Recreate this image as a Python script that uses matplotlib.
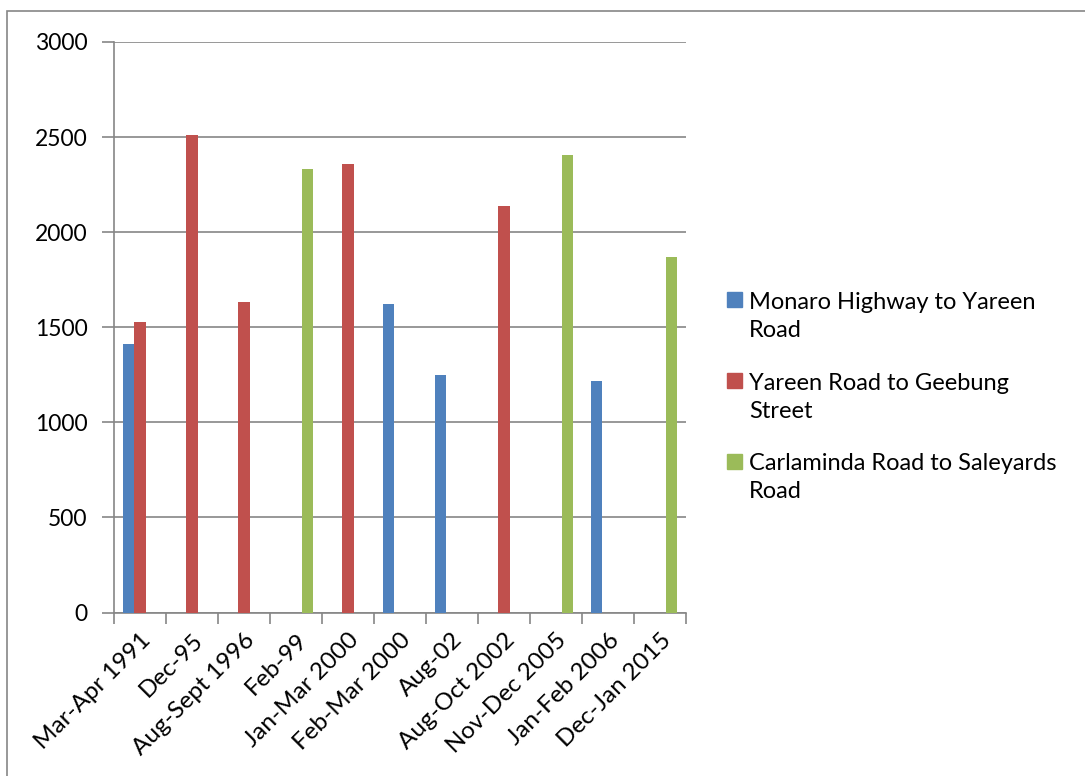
import matplotlib
matplotlib.use('Agg')
import numpy as np
import matplotlib.pyplot as plt
from matplotlib.patches import Rectangle

categories = ["Mar-Apr 1991", "Dec-95", "Aug-Sept 1996", "Feb-99", "Jan-Mar 2000",
              "Feb-Mar 2000", "Aug-02", "Aug-Oct 2002", "Nov-Dec 2005", "Jan-Feb 2006",
              "Dec-Jan 2015"]
nan = np.nan
monaro = [1410, nan, nan, nan, nan, 1623, 1248, nan, nan, 1219, nan]
yareen = [1530, 2510, 1632, nan, 2360, nan, nan, 2140, nan, nan, nan]
carlaminda = [nan, nan, nan, 2332, nan, nan, nan, nan, 2406, nan, 1870]

series_names = ["Monaro Highway to Yareen\nRoad",
                "Yareen Road to Geebung\nStreet",
                "Carlaminda Road to Saleyards\nRoad"]
series_values = [monaro, yareen, carlaminda]
colors = ['#4F81BD', '#C0504D', '#9BBB59']

plt.rcParams['font.family'] = ['Lato', 'DejaVu Sans']
W, H = 1085, 776
fig = plt.figure(figsize=(W / 100, H / 100), dpi=100)
ax = fig.add_axes([114 / W, 1 - 612.5 / H, 572 / W, 570.5 / H])

x = np.arange(len(categories))
bar_w = 0.22
for i, (vals, col) in enumerate(zip(series_values, colors)):
    ax.bar(x + (i - 1) * bar_w, vals, width=bar_w, color=col, zorder=3)

ax.set_xlim(-0.5, len(categories) - 0.5)
ax.set_ylim(0, 3000)
ax.set_yticks(np.arange(0, 3001, 500))
ax.yaxis.grid(True, color='#868686', linewidth=1.2, zorder=0)

for side in ['top', 'right']:
    ax.spines[side].set_visible(False)
ax.spines['left'].set_color('#868686')
ax.spines['bottom'].set_color('#868686')
ax.spines['left'].set_linewidth(1.2)
ax.spines['bottom'].set_linewidth(1.2)

# category boundary ticks on x, centered labels
ax.set_xticks(np.arange(-0.5, len(categories), 1.0))
ax.set_xticklabels([])
ax.set_xticks(x, minor=True)
ax.set_xticklabels(categories, minor=True, rotation=45, ha='right', va='top',
                   rotation_mode='anchor', fontsize=17.5)
ax.tick_params(axis='x', which='minor', length=0, pad=12)
ax.tick_params(axis='x', which='major', length=8, width=1.2, color='#868686')
ax.tick_params(axis='y', length=9, width=1.2, color='#868686', labelsize=16.5, pad=10)

# manual legend
leg_x, leg_y0, leg_dy = 727, 300, 80.5
for i, (name, col) in enumerate(zip(series_names, colors)):
    yc = leg_y0 + i * leg_dy
    fig.add_artist(Rectangle((leg_x / W, 1 - (yc + 7.5) / H), 15 / W, 15 / H,
                             transform=fig.transFigure, color=col))
    fig.text(749 / W, 1 - (yc - 8) / H, name, fontsize=17, va='top', ha='left',
             linespacing=1.42)

# chart area border (cut by image edge)
fig.add_artist(Rectangle((7 / W, -0.1), 1.2, 1 - 11 / H + 0.1, transform=fig.transFigure,
                         fill=False, edgecolor='#868686', linewidth=1.2))

fig.savefig('out.png', dpi=100)
